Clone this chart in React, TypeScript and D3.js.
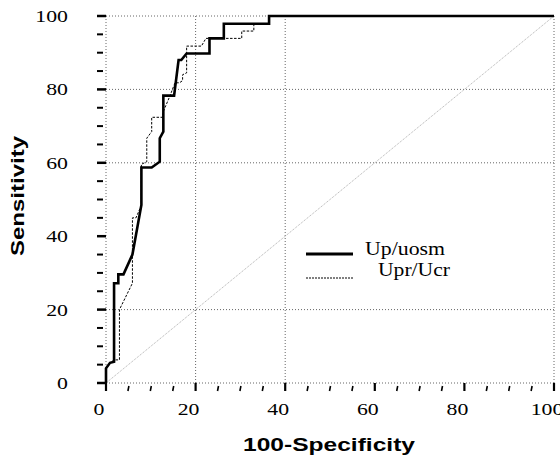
import React, { useEffect, useRef } from 'react'
import * as d3 from 'd3'

// ROC curves: 100-specificity (x) vs sensitivity (y)
const upUosmX = [0, 0, 0.9, 1.8, 1.8, 2.75, 2.75, 3.9, 5.9, 7.9, 7.9, 10.2, 12, 12, 12.8, 12.8, 15.2, 16.2, 16.8, 18, 23.1, 23.1, 26.3, 26.3, 36.4, 36.4, 100]
const upUosmY = [0, 4, 5.5, 5.8, 27.2, 27.2, 29.6, 29.6, 35, 48.5, 58.7, 58.7, 60.3, 66.7, 68.5, 78.3, 78.3, 88, 88, 89.8, 89.8, 93.9, 93.9, 97.9, 97.9, 100, 100]

const uprUcrX = [0, 0, 0.9, 1.8, 3, 3, 5.9, 5.9, 6.7, 7.9, 7.9, 9.1, 9.1, 10.2, 10.2, 12.6, 12.8, 14.3, 15.4, 16.4, 17.1, 17.1, 18, 18, 21.3, 22.3, 30.3, 30.3, 33, 33, 36.4, 36.4, 100]
const uprUcrY = [0, 4, 5.5, 6.3, 6.3, 20, 27.2, 45, 45, 48.5, 59.6, 60.3, 66.7, 68.5, 72.4, 72.4, 74, 78.3, 81.8, 81.8, 82.4, 84, 84.5, 91.8, 91.8, 93.9, 93.9, 95.9, 95.9, 97.9, 97.9, 100, 100]

const majorTicks = [0, 20, 40, 60, 80, 100]
const minorTicks = [5, 10, 15, 25, 30, 35, 45, 50, 55, 65, 70, 75, 85, 90, 95]
const xGrid = [0, 20, 40, 100]
const yGrid = [0, 20, 60, 80, 100]
const legendLabels = ['Up/uosm', 'Upr/Ucr']

export default function App() {
  const svgRef = useRef<SVGSVGElement>(null)

  useEffect(() => {
    if (!svgRef.current) return
    const svg = d3.select(svgRef.current)
    svg.selectAll('*').remove()

    const x = d3.scaleLinear().domain([0, 100]).range([106, 554])
    const y = d3.scaleLinear().domain([0, 100]).range([383, 16])
    const serif = '"Liberation Serif", "Times New Roman", serif'
    const sans = '"Liberation Sans", Arial, sans-serif'
    const stretch = 1.28

    // gridlines
    svg.append('g')
      .selectAll('line')
      .data(xGrid)
      .join('line')
      .attr('x1', (d) => x(d))
      .attr('x2', (d) => x(d))
      .attr('y1', y(0))
      .attr('y2', y(100))
      .attr('stroke', '#666')
      .attr('stroke-width', 1)
      .attr('stroke-dasharray', '1,2')

    svg.append('g')
      .selectAll('line')
      .data(yGrid)
      .join('line')
      .attr('x1', x(0))
      .attr('x2', x(100))
      .attr('y1', (d) => y(d))
      .attr('y2', (d) => y(d))
      .attr('stroke', '#666')
      .attr('stroke-width', 1)
      .attr('stroke-dasharray', '1,2')

    // diagonal reference
    svg.append('line')
      .attr('x1', x(0))
      .attr('y1', y(0))
      .attr('x2', x(100))
      .attr('y2', y(100))
      .attr('stroke', '#999')
      .attr('stroke-width', 0.8)
      .attr('stroke-dasharray', '1,1')

    // y ticks
    svg.append('g')
      .selectAll('line')
      .data(majorTicks)
      .join('line')
      .attr('x1', 97)
      .attr('x2', x(0))
      .attr('y1', (d) => y(d))
      .attr('y2', (d) => y(d))
      .attr('stroke', '#000')
      .attr('stroke-width', 2.5)
    svg.append('g')
      .selectAll('line')
      .data(minorTicks)
      .join('line')
      .attr('x1', 97)
      .attr('x2', 103)
      .attr('y1', (d) => y(d))
      .attr('y2', (d) => y(d))
      .attr('stroke', '#000')
      .attr('stroke-width', 2)

    // x ticks
    svg.append('g')
      .selectAll('line')
      .data(majorTicks)
      .join('line')
      .attr('x1', (d) => x(d))
      .attr('x2', (d) => x(d))
      .attr('y1', y(0))
      .attr('y2', 391)
      .attr('stroke', '#000')
      .attr('stroke-width', 2.2)
    svg.append('g')
      .selectAll('line')
      .data(minorTicks)
      .join('line')
      .attr('x1', (d) => x(d) + 0.5)
      .attr('x2', (d) => x(d) - 0.5)
      .attr('y1', 386)
      .attr('y2', 391)
      .attr('stroke', '#000')
      .attr('stroke-width', 1.6)

    // tick labels
    svg.append('g')
      .selectAll('text')
      .data(majorTicks)
      .join('text')
      .attr('x', 68)
      .attr('y', (d) => y(d) + 6)
      .attr('text-anchor', 'end')
      .attr('textLength', (d) => String(d).length * 8.5 * stretch)
      .attr('lengthAdjust', 'spacingAndGlyphs')
      .style('font-family', serif)
      .style('font-size', '17px')
      .text((d) => d)

    svg.append('g')
      .selectAll('text')
      .data(majorTicks)
      .join('text')
      .attr('x', (d) => x(d) - 7)
      .attr('y', 415)
      .attr('text-anchor', 'middle')
      .attr('textLength', (d) => String(d).length * 8.5 * stretch)
      .attr('lengthAdjust', 'spacingAndGlyphs')
      .style('font-family', serif)
      .style('font-size', '17px')
      .text((d) => d)

    // axis titles
    svg.append('text')
      .attr('x', 329)
      .attr('y', 451)
      .attr('text-anchor', 'middle')
      .attr('textLength', 172)
      .attr('lengthAdjust', 'spacingAndGlyphs')
      .style('font-family', sans)
      .style('font-size', '19px')
      .style('font-weight', 'bold')
      .text('100-Specificity')

    svg.append('text')
      .attr('transform', 'translate(24,196) rotate(-90)')
      .attr('text-anchor', 'middle')
      .attr('textLength', 120)
      .attr('lengthAdjust', 'spacingAndGlyphs')
      .style('font-family', sans)
      .style('font-size', '18px')
      .style('font-weight', 'bold')
      .text('Sensitivity')

    // curves
    const pathFor = (xs: number[], ys: number[]) =>
      d3.line<number>()
        .x((d) => x(xs[d]))
        .y((d) => y(ys[d]))(d3.range(xs.length)) || ''

    svg.append('path')
      .attr('d', pathFor(uprUcrX, uprUcrY))
      .attr('fill', 'none')
      .attr('stroke', '#000')
      .attr('stroke-width', 1)
      .attr('stroke-dasharray', '2.5,1.5')

    svg.append('path')
      .attr('d', pathFor(upUosmX, upUosmY))
      .attr('fill', 'none')
      .attr('stroke', '#000')
      .attr('stroke-width', 2.6)
      .attr('stroke-linejoin', 'miter')

    // legend
    const legend = svg.append('g')
    legend.append('line')
      .attr('x1', 306).attr('x2', 353)
      .attr('y1', 254).attr('y2', 254)
      .attr('stroke', '#000')
      .attr('stroke-width', 3)
    legend.append('line')
      .attr('x1', 306).attr('x2', 353)
      .attr('y1', 278).attr('y2', 278)
      .attr('stroke', '#000')
      .attr('stroke-width', 1)
      .attr('stroke-dasharray', '2,1')
    legend.append('text')
      .attr('x', 365).attr('y', 255)
      .attr('textLength', 80)
      .attr('lengthAdjust', 'spacingAndGlyphs')
      .style('font-family', serif)
      .style('font-size', '18px')
      .text(legendLabels[0])
    legend.append('text')
      .attr('x', 378).attr('y', 276)
      .attr('textLength', 72)
      .attr('lengthAdjust', 'spacingAndGlyphs')
      .style('font-family', serif)
      .style('font-size', '18px')
      .text(legendLabels[1])
  }, [])

  return (
    <svg
      ref={svgRef}
      width={560}
      height={456}
      style={{ position: 'absolute', left: 0, top: 0, background: '#fff' }}
    />
  )
}
